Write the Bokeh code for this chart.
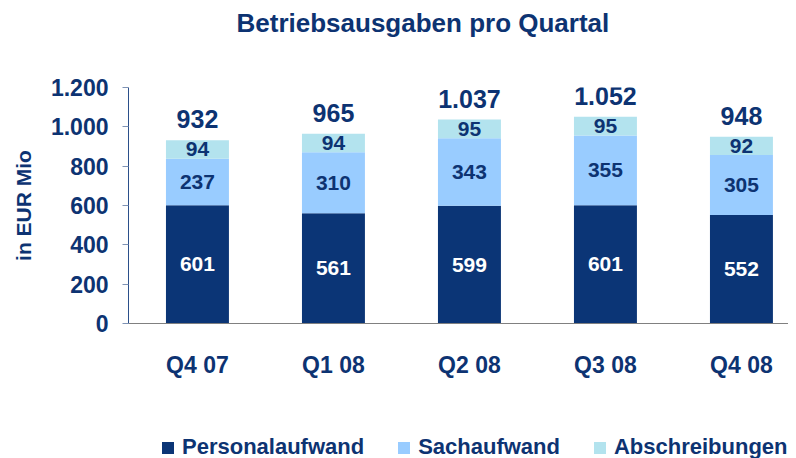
from bokeh.plotting import figure
from bokeh.layouts import column
from bokeh.models import ColumnDataSource, FixedTicker, Legend, Title
from bokeh.core.properties import value
from bokeh.embed import file_html
from bokeh.resources import INLINE

categories = ["Q4 07", "Q1 08", "Q2 08", "Q3 08", "Q4 08"]
personal = [601, 561, 599, 601, 552]
sach = [237, 310, 343, 355, 305]
abschr = [94, 94, 95, 95, 92]
totals = [932, 965, 1037, 1052, 948]
total_labels = ["932", "965", "1.037", "1.052", "948"]
series_names = ["Personalaufwand", "Sachaufwand", "Abschreibungen"]
y_ticks = [0, 200, 400, 600, 800, 1000, 1200]
y_tick_labels = ["0", "200", "400", "600", "800", "1.000", "1.200"]

C_DARK = "#0b3576"
C_MID = "#99ccff"
C_LIGHT = "#b3e3ee"
COLORS = [C_DARK, C_MID, C_LIGHT]
C_TEXT = "#0d3372"
FONT = "Liberation Sans"

xs = list(range(len(categories)))
src = ColumnDataSource(dict(
    x=xs, personal=personal, sach=sach, abschr=abschr,
    y1=[p / 2 for p in personal],
    y2=[p + s / 2 for p, s in zip(personal, sach)],
    y3=[p + s + a / 2 for p, s, a in zip(personal, sach, abschr)],
    top=[p + s + a for p, s, a in zip(personal, sach, abschr)],
    l1=[str(v) for v in personal], l2=[str(v) for v in sach], l3=[str(v) for v in abschr],
    lt=total_labels,
))

p = figure(width=788, height=410, output_backend="svg", toolbar_location=None, title=None,
           x_range=(-0.507, 4.346), y_range=(0, 1200),
           min_border_left=128, min_border_right=0, min_border_top=84, min_border_bottom=87)
p.outline_line_color = None
p.grid.grid_line_color = None

p.vbar_stack(["personal", "sach", "abschr"], x="x", width=0.463, source=src,
             color=COLORS, line_color=None)

# spacer then title (first added sits closest to the frame)
p.add_layout(Title(text=" ", text_font_size="30px"), "above")
p.add_layout(Title(text="Betriebsausgaben pro Quartal", align="left", offset=108,
                   text_font=FONT, text_font_size="26px", text_font_style="bold",
                   text_color=C_TEXT), "above")

common = dict(source=src, text_align="center", text_baseline="middle",
              text_font=value(FONT), text_font_style="bold", text_font_size="21px")
p.text(x="x", y="y1", text="l1", text_color="white", **common)
p.text(x="x", y="y2", text="l2", text_color=C_TEXT, **common)
p.text(x="x", y="y3", text="l3", text_color=C_TEXT, **common)
p.text(x="x", y="top", text="lt", text_color=C_TEXT, source=src, text_align="center",
       text_baseline="bottom", y_offset=-12, text_font=value(FONT), text_font_style="bold",
       text_font_size="25px")

ya = p.yaxis[0]
ya.ticker = FixedTicker(ticks=y_ticks)
ya.major_label_overrides = {t: l for t, l in zip(y_ticks, y_tick_labels)}
ya.axis_line_color = "#2b4f8a"
ya.major_tick_line_color = "#7f93b5"
ya.major_tick_out = 6
ya.major_tick_in = 0
ya.minor_tick_line_color = None
ya.major_label_standoff = 14
ya.major_label_text_font = FONT
ya.major_label_text_font_style = "bold"
ya.major_label_text_font_size = "23px"
ya.major_label_text_color = C_TEXT
ya.axis_label = "in EUR Mio"
ya.axis_label_text_font = FONT
ya.axis_label_text_font_style = "bold"
ya.axis_label_text_font_size = "21px"
ya.axis_label_text_color = C_TEXT
ya.axis_label_standoff = 13

xa = p.xaxis[0]
xa.ticker = FixedTicker(ticks=xs)
xa.major_label_overrides = {i: c for i, c in zip(xs, categories)}
xa.axis_line_color = "#808080"
xa.major_tick_line_color = None
xa.minor_tick_line_color = None
xa.major_label_standoff = 22
xa.major_label_text_font = FONT
xa.major_label_text_font_style = "bold"
xa.major_label_text_font_size = "23px"
xa.major_label_text_color = C_TEXT

# legend strip (its renderers use the series data but lie outside the strip's view)
lf = figure(width=788, height=48, output_backend="svg", toolbar_location=None, title=None,
            x_range=(-20, -19), y_range=(0, 1), min_border=0)
lf.axis.visible = False
lf.grid.grid_line_color = None
lf.outline_line_color = None
items = []
for name, col, vals in zip(series_names, COLORS, [personal, sach, abschr]):
    r = lf.vbar(x=xs, top=vals, width=0.463, fill_color=col, line_color=None)
    items.append((name, [r]))
legend = Legend(items=items, orientation="horizontal", location=(32, -2))
legend.padding = 0
legend.margin = 0
legend.spacing = 32
legend.label_standoff = 7
legend.glyph_width = 15
legend.glyph_height = 15
legend.border_line_color = None
legend.background_fill_alpha = 0
legend.label_text_font = FONT
legend.label_text_font_style = "bold"
legend.label_text_font_size = "22px"
legend.label_text_color = C_TEXT
lf.add_layout(legend, "center")

open("out.html", "w").write(file_html(column(p, lf, spacing=0), INLINE))
